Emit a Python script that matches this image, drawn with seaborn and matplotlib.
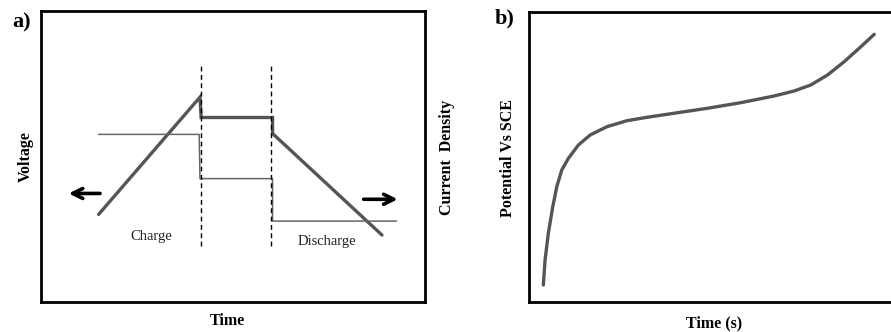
import matplotlib
matplotlib.use("Agg")
import matplotlib.pyplot as plt
import seaborn as sns
import pandas as pd

sns.set_theme(style="white")
plt.rcParams['font.family'] = ['Liberation Serif', 'DejaVu Serif']

# ---- Panel a data (arbitrary units 0-100) ----
volt_x = [15.0, 41.4, 41.7, 60.3, 60.3, 88.8]
volt_y = [30.1, 70.4, 63.4, 63.4, 57.9, 23.0]
curr_x = [15.0, 41.2, 41.4, 60.3, 60.3, 92.6]
curr_y = [57.6, 57.6, 42.4, 42.4, 27.8, 27.8]
dash_x = [41.6, 59.9]
dash_y = [19.2, 81.8]

# ---- Panel b data ----
pot_t = [3.93, 4.40, 5.30, 6.51, 7.61, 8.98, 10.80, 13.54, 16.76, 21.35, 26.84,
         32.34, 39.64, 48.82, 57.97, 67.12, 72.61, 77.20, 81.79, 86.35, 90.93, 94.59]
pot_v = [5.86, 14.48, 23.69, 32.86, 39.76, 45.52, 49.55, 54.14, 57.59, 60.45, 62.52,
         63.69, 65.07, 66.79, 68.72, 71.03, 72.76, 74.83, 78.28, 82.86, 88.03, 92.31]

W, H = 891, 332
fig = plt.figure(figsize=(W/100, H/100), dpi=100)

def pos(l, t, r, b):
    return [l/W, 1 - b/H, (r-l)/W, (b-t)/H]

axa = fig.add_axes(pos(41, 11, 425, 302))
axb = fig.add_axes(pos(529, 12, 894, 302))

line_col = '#555555'
df_v = pd.DataFrame({'x': volt_x, 'y': volt_y})
df_c = pd.DataFrame({'x': curr_x, 'y': curr_y})
sns.lineplot(data=df_v, x='x', y='y', sort=False, estimator=None, ax=axa,
             color=line_col, lw=2.4, solid_joinstyle='miter')
sns.lineplot(data=df_c, x='x', y='y', sort=False, estimator=None, ax=axa,
             color='#666666', lw=1.1)
for dx in dash_x:
    axa.plot([dx, dx], dash_y, color='black', lw=1.0, dashes=(3.5, 2.5))

axa.annotate('', xy=(6.5, 37.3), xytext=(16.1, 37.3),
             arrowprops=dict(arrowstyle='->', lw=2.6, color='black', mutation_scale=18))
axa.annotate('', xy=(93.6, 35.3), xytext=(83.3, 35.3),
             arrowprops=dict(arrowstyle='->', lw=2.6, color='black', mutation_scale=18))
axa.text(28.6, 22.4, 'Charge', ha='center', va='center', fontsize=10.5, color='#222222')
axa.text(74.4, 20.8, 'Discharge', ha='center', va='center', fontsize=10.5, color='#222222')

df_b = pd.DataFrame({'t': pot_t, 'v': pot_v})
sns.lineplot(data=df_b, x='t', y='v', sort=False, estimator=None, ax=axb,
             color=line_col, lw=2.4)

for ax in (axa, axb):
    ax.set_xlim(0, 100)
    ax.set_ylim(0, 100)
    ax.set_xticks([])
    ax.set_yticks([])
    for s in ax.spines.values():
        s.set_visible(True)
        s.set_color('black')
        s.set_linewidth(2.0)
    ax.set_xlabel('')
    ax.set_ylabel('')

lab = dict(fontsize=11.5, fontweight='bold', color='black')
fig.text(26/W, 1-157/H, 'Voltage', rotation=90, ha='center', va='center', **lab)
fig.text(227/W, 1-321/H, 'Time', ha='center', va='center', **lab)
fig.text(447/W, 1-157/H, 'Current  Density', rotation=90, ha='center', va='center', **lab)
fig.text(508/W, 1-158/H, 'Potential Vs SCE', rotation=90, ha='center', va='center', **lab)
fig.text(714/W, 1-323/H, 'Time (s)', ha='center', va='center', **lab)
fig.text(22/W, 1-22/H, 'a)', ha='center', va='center', fontsize=16, fontweight='bold', color='black')
fig.text(505/W, 1-18/H, 'b)', ha='center', va='center', fontsize=16, fontweight='bold', color='black')

fig.savefig('out.png', dpi=100)
